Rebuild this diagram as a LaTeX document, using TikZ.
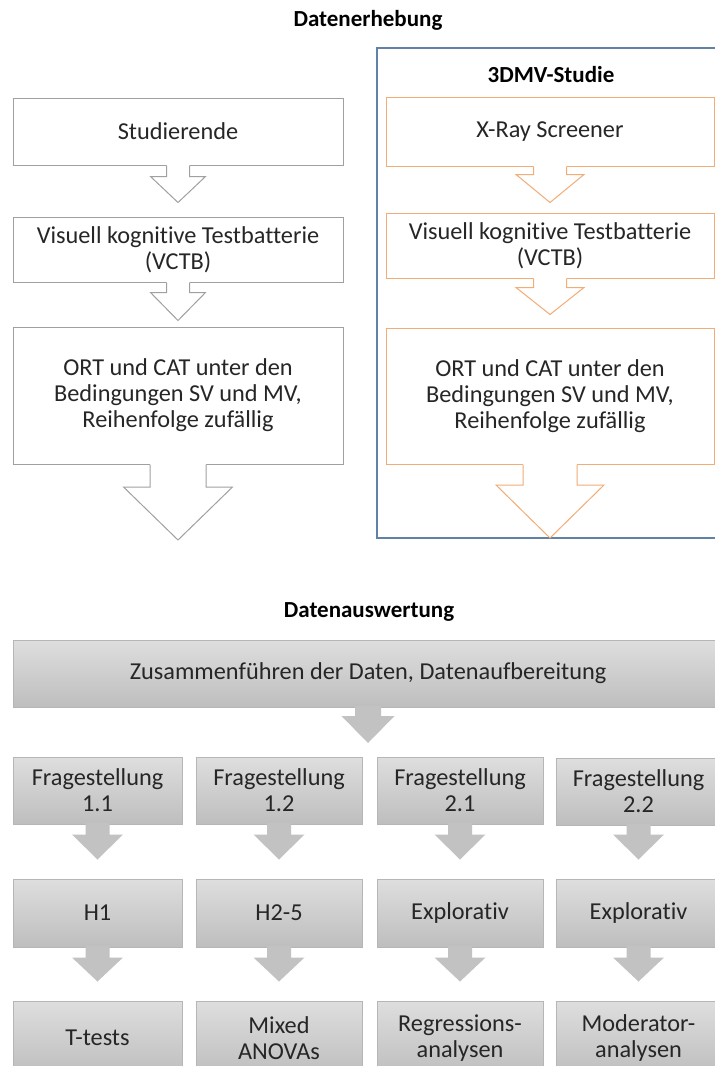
\documentclass[tikz,border=0pt]{standalone}
\usepackage{fontspec}
\setmainfont{Carlito}[Ligatures=NoCommon]
\usetikzlibrary{calc}

\definecolor{txt}{RGB}{38,38,38}
\definecolor{plainline}{RGB}{160,160,160}
\definecolor{orangeline}{RGB}{242,172,118}
\definecolor{frameblue}{RGB}{95,130,165}
\definecolor{greytop}{RGB}{222,222,222}
\definecolor{greybot}{RGB}{190,190,190}
\definecolor{greyedge}{RGB}{182,182,182}
\definecolor{greyarrow}{RGB}{194,194,194}

% block arrow below a node: #1 fill, #2 outline, #3 source node, #4 tip point,
% #5 shaft half width, #6 head half width, #7 head length (all in pt)
\newcommand{\blockarrow}[7]{%
  \path[fill=#1,draw=none] let \p1=(#3.south), \p2=#4 in
    (\x1-#5pt,\y1+1.5pt) -- (\x1-#5pt,\y2+#7pt) -- (\x1-#6pt,\y2+#7pt) -- (\x1,\y2)
    -- (\x1+#6pt,\y2+#7pt) -- (\x1+#5pt,\y2+#7pt) -- (\x1+#5pt,\y1+1.5pt) -- cycle;
  \path[draw=#2,line width=1pt,line join=miter] let \p1=(#3.south), \p2=#4 in
    (\x1-#5pt,\y1) -- (\x1-#5pt,\y2+#7pt) -- (\x1-#6pt,\y2+#7pt) -- (\x1,\y2)
    -- (\x1+#6pt,\y2+#7pt) -- (\x1+#5pt,\y2+#7pt) -- (\x1+#5pt,\y1);
}

\tikzset{
  body/.style={font=\fontsize{24.3pt}{26pt}\selectfont, text=txt, align=center, inner sep=0pt},
  heading/.style={font=\fontsize{23pt}{26pt}\selectfont\bfseries, text=black, inner sep=0pt},
  plainbox/.style={body, draw=plainline, line width=1pt, fill=white},
  orangebox/.style={body, draw=orangeline, line width=1pt, fill=white},
  greybox/.style={body, draw=greyedge, line width=1pt, top color=greytop, bottom color=greybot},
}

\begin{document}
\begin{tikzpicture}[x=1pt,y=-1pt]
\useasboundingbox (0,0) rectangle (715,1066);
\fill[white] (0,0) rectangle (715,1066);

% ---------- Datenerhebung ----------
\node[heading] (hErh) at (368,20) {Datenerhebung};

% left column
\node[plainbox, minimum width=330pt, minimum height=67pt] (L1) at (178,131.5) {Studierende};
\node[plainbox, minimum width=330pt, minimum height=65pt] (L2) at (178,249.5) {Visuell kognitive Testbatterie\\(VCTB)};
\node[plainbox, minimum width=330pt, minimum height=137pt] (L3) at (178,395.5) {ORT und CAT unter den\\Bedingungen SV und MV,\\Reihenfolge zufällig};
\coordinate (Lend) at (178,540);

\blockarrow{white}{plainline}{L1}{($(L2.north)+(0,-14)$)}{11.5}{27.5}{26}
\blockarrow{white}{plainline}{L2}{($(L3.north)+(0,-6)$)}{11.5}{27.5}{28}
\blockarrow{white}{plainline}{L3}{(Lend)}{28}{54.5}{53}

% right column inside the study frame
\node[draw=frameblue, line width=1.1pt, minimum width=339pt, minimum height=490pt, inner sep=0pt] (frame) at (546.5,293) {};
\node[heading] (hStudy) at (551,75) {3DMV-Studie};
\node[orangebox, minimum width=328pt, minimum height=69pt] (R1) at (550,131.5) {X-Ray Screener};
\node[orangebox, minimum width=328pt, minimum height=65pt] (R2) at (550,245.5) {Visuell kognitive Testbatterie\\(VCTB)};
\node[orangebox, minimum width=328pt, minimum height=136pt] (R3) at (550,396) {ORT und CAT unter den\\Bedingungen SV und MV,\\Reihenfolge zufällig};
\coordinate (Rend) at (551,538);

\blockarrow{white}{orangeline}{R1}{($(R2.north)+(0,-10)$)}{16.5}{34}{28}
\blockarrow{white}{orangeline}{R2}{($(R3.north)+(0,-13)$)}{16.5}{34}{27}
\blockarrow{white}{orangeline}{R3}{(Rend)}{27}{54}{53}

% ---------- Datenauswertung ----------
\node[heading] (hAus) at (369,612) {Datenauswertung};
\node[greybox, minimum width=710pt, minimum height=67pt] (Z) at (368,673.5) {Zusammenführen der Daten, Datenaufbereitung};
\coordinate (Zend) at (368,743);
\blockarrow{greyarrow}{none}{Z}{(Zend)}{13}{26.5}{27}

% question row
\node[greybox, minimum width=169pt, minimum height=67pt] (F11) at (97.5,790.5) {Fragestellung\\1.1};
\node[greybox, minimum width=166pt, minimum height=67pt] (F12) at (279,790.5) {Fragestellung\\1.2};
\node[greybox, minimum width=166pt, minimum height=67pt] (F21) at (460,790.5) {Fragestellung\\2.1};
\node[greybox, minimum width=165pt, minimum height=67pt] (F22) at (638.5,791.5) {Fragestellung\\2.2};

% hypothesis row
\node[greybox, minimum width=169pt, minimum height=68pt] (H1) at (97.5,913) {H1};
\node[greybox, minimum width=166pt, minimum height=68pt] (H25) at (279,913) {H2-5};
\node[greybox, minimum width=166pt, minimum height=68pt] (E21) at (460,913) {Explorativ};
\node[greybox, minimum width=165pt, minimum height=68pt] (E22) at (638.5,913) {Explorativ};

% method row
\node[greybox, minimum width=169pt, minimum height=74pt] (M1) at (97.5,1038) {T-tests};
\node[greybox, minimum width=166pt, minimum height=74pt] (M2) at (279,1038) {Mixed\\ANOVAs};
\node[greybox, minimum width=166pt, minimum height=74pt] (M3) at (460,1038) {Regressions-\\analysen};
\node[greybox, minimum width=165pt, minimum height=74pt] (M4) at (638.5,1038) {Moderator-\\analysen};

\foreach \a/\b in {F11/H1,F12/H25,F21/E21,F22/E22}{
  \blockarrow{greyarrow}{none}{\a}{($(\b.north)+(0,-19)$)}{12}{25.5}{25}
}
\foreach \a/\b in {H1/M1,H25/M2,E21/M3,E22/M4}{
  \blockarrow{greyarrow}{none}{\a}{($(\b.north)+(0,-19)$)}{12}{25.5}{24}
}
\end{tikzpicture}
\end{document}
